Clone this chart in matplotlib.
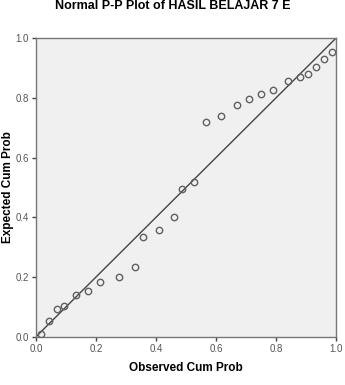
import matplotlib
matplotlib.use("Agg")
import matplotlib.pyplot as plt

plt.rcParams['font.family'] = ['Liberation Sans', 'DejaVu Sans']

# observed / expected cumulative probabilities
obs = [0.017, 0.043, 0.070, 0.095, 0.134, 0.173, 0.212, 0.278, 0.330, 0.357,
       0.410, 0.461, 0.487, 0.527, 0.566, 0.617, 0.670, 0.710, 0.749, 0.789,
       0.841, 0.880, 0.907, 0.934, 0.959, 0.986]
exp = [0.010, 0.054, 0.094, 0.104, 0.140, 0.154, 0.184, 0.200, 0.235, 0.335,
       0.357, 0.402, 0.496, 0.519, 0.720, 0.740, 0.777, 0.795, 0.812, 0.826,
       0.856, 0.869, 0.881, 0.904, 0.930, 0.952]
ticks = [0.0, 0.2, 0.4, 0.6, 0.8, 1.0]

fig = plt.figure(figsize=(3.45, 3.85), dpi=100)
ax = fig.add_axes([0.104, 0.125, 0.870, 0.776])
ax.set_facecolor('#f0f0f0')

ax.plot([0, 1], [0, 1], color='#444444', lw=1.0, zorder=2)
ax.plot(obs, exp, 'o', mfc='none', mec='#606060', ms=4.6, mew=1.0, zorder=3)

ax.set_xlim(0, 1)
ax.set_ylim(0, 1)
ax.set_xticks(ticks)
ax.set_yticks(ticks)
ax.set_xticklabels(['%.1f' % t for t in ticks])
ax.set_yticklabels(['%.1f' % t for t in ticks])
ax.tick_params(direction='out', length=3, width=1, colors='#444444',
               labelsize=7, labelcolor='#555555', pad=2)
for s in ax.spines.values():
    s.set_color('#777777')
    s.set_linewidth(1)

ax.set_xlabel('Observed Cum Prob', fontsize=8.5, fontweight='bold', labelpad=6)
ax.set_ylabel('Expected Cum Prob', fontsize=8.5, fontweight='bold', labelpad=1)
fig.text(0.5, 1 - 6 / 385, 'Normal P-P Plot of HASIL BELAJAR 7 E',
         ha='center', va='center', fontsize=9, fontweight='bold')

fig.savefig('out.png', dpi=100)
